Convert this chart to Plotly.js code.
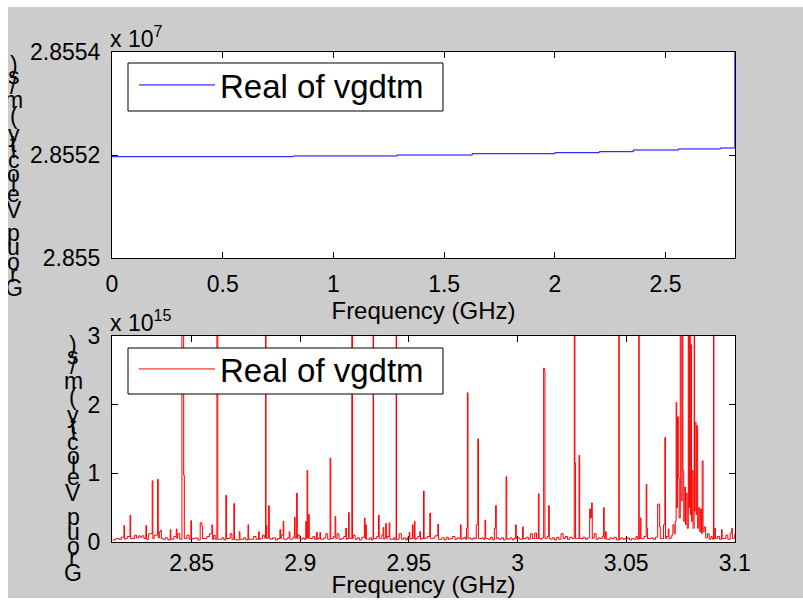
<!DOCTYPE html>
<html><head><meta charset="utf-8">
<script src="https://cdn.plot.ly/plotly-3.0.1.min.js"></script>
<style>
html,body{margin:0;padding:0;background:#fff;overflow:hidden}
#chart{position:absolute;left:8px;top:7px;width:795px;height:591px}
</style></head><body><div id="chart"></div>
<script>
// ---------- data ----------
const seriesName = 'Real of vgdtm';
const xTitle = 'Frequency (GHz)';
const yTitle = 'Group Velocity (m/s)';

// top panel: group velocity in units of 1e7 m/s
const topFreqGHz = [0, 0.818, 1.288, 1.627, 2.0, 2.2, 2.354, 2.558, 2.747, 2.8130];
const topVelE7 = [2.8551967, 2.8551981, 2.8552000, 2.8552025, 2.8552045, 2.8552064, 2.8552097, 2.8552117, 2.8552136, 2.8600];
const topXTicks = [0, 0.5, 1, 1.5, 2, 2.5];
const topYTicks = [2.855, 2.8552, 2.8554];
const topYTickText = ['2.855', '2.8552', '2.8554'];

// bottom panel: group velocity in units of 1e15 m/s
const bottomFreqGHz = [
2.8135,2.8150,2.8165,2.8176,2.8188,2.8191,2.8196,2.8203,2.8216,2.8219,2.8226,2.8237,
2.8246,2.8256,2.8263,2.8271,2.8280,2.8289,2.8292,2.8302,2.8318,2.8321,2.8327,2.8343,2.8346,
2.8351,2.8357,2.8360,2.8368,2.8378,2.8390,2.8401,2.8404,2.8410,2.8418,2.8429,2.8432,2.8435,
2.8445,2.8455,2.8457,2.8463,2.8466,2.8470,2.8478,2.8488,2.8496,2.8499,2.8505,2.8516,
2.8528,2.8539,2.8547,2.8550,2.8558,2.8570,2.8582,2.8593,2.8596,2.8601,2.8608,2.8616,2.8618,
2.8620,2.8628,2.8639,2.8648,2.8657,2.8660,2.8667,2.8677,2.8685,2.8694,2.8697,2.8705,
2.8719,2.8722,2.8729,2.8739,2.8749,2.8759,2.8762,2.8770,2.8785,2.8796,2.8808,2.8811,2.8817,
2.8826,2.8834,2.8840,2.8842,2.8843,2.8846,2.8850,2.8854,2.8857,2.8863,2.8872,2.8885,2.8895,
2.8906,2.8909,2.8912,2.8921,2.8924,2.8930,2.8940,2.8949,2.8952,2.8958,2.8966,2.8973,2.8976,2.8978,
2.8983,2.8986,2.8989,2.8998,2.9010,2.9018,2.9025,2.9028,2.9031,2.9034,2.9038,2.9041,2.9046,2.9058,
2.9066,2.9075,2.9078,2.9082,2.9090,2.9093,2.9100,2.9108,2.9117,2.9126,2.9137,2.9140,2.9146,
2.9153,2.9160,2.9163,2.9169,2.9178,2.9190,2.9200,2.9209,2.9212,2.9215,2.9222,2.9225,2.9237,2.9238,2.9240,
2.9243,2.9252,2.9262,2.9272,2.9283,2.9295,2.9298,2.9301,2.9304,2.9310,2.9320,
2.9328,2.9335,2.9337,2.9343,2.9352,2.9360,2.9363,2.9368,2.9375,2.9381,2.9384,2.9387,2.9393,2.9396,
2.9400,2.9409,2.9412,2.9418,2.9428,2.9435,2.9441,2.9443,2.9448,2.9455,2.9465,2.9475,
2.9485,2.9493,2.9501,2.9504,2.9508,2.9516,2.9519,2.9525,2.9528,2.9533,2.9541,2.9550,2.9553,2.9558,
2.9567,2.9570,2.9575,2.9585,2.9596,2.9599,2.9605,2.9613,2.9620,2.9633,2.9636,2.9642,2.9652,
2.9662,2.9672,2.9681,2.9690,2.9700,2.9712,2.9722,2.9730,2.9737,2.9740,2.9745,
2.9753,2.9760,2.9765,2.9769,2.9772,2.9775,2.9785,2.9796,2.9804,2.9810,2.9817,2.9820,
2.9825,2.9835,2.9843,2.9850,2.9853,2.9858,2.9866,2.9875,2.9884,2.9893,2.9899,2.9902,
2.9906,2.9915,2.9925,2.9935,2.9947,2.9950,2.9955,2.9965,2.9975,2.9983,2.9991,2.9994,
2.9999,3.0010,3.0023,3.0026,3.0030,3.0040,3.0050,3.0059,3.0068,3.0079,3.0087,
3.0096,3.0099,3.0105,3.0112,3.0120,3.0123,3.0126,3.0130,3.0136,3.0143,3.0146,3.0150,3.0160,
3.0170,3.0180,3.0190,3.0200,3.0210,3.0220,3.0230,3.0240,3.0250,3.0261,3.0264,3.0267,
3.0272,3.0283,3.0286,3.0292,3.0302,3.0312,3.0322,3.0332,3.0336,3.0341,3.0344,
3.0347,3.0353,3.0362,3.0372,3.0382,3.0390,3.0396,3.0399,3.0405,3.0408,3.0415,3.0425,
3.0435,3.0445,3.0455,3.0466,3.0468,3.0475,3.0485,3.0495,3.0505,3.0515,3.0525,
3.0535,3.0545,3.0551,3.0558,3.0560,3.0565,3.0568,3.0572,3.0582,3.0592,3.0595,3.0598,3.0605,
3.0615,3.0625,3.0635,3.0645,3.0654,3.0657,3.0662,3.0672,3.0678,3.0681,3.0686,3.0694,3.0697,
3.0702,3.0710,3.0715,3.0721,3.0726,3.0730,3.0733,3.0736,3.0740,3.0744,
3.0749,3.0753,3.0758,3.0761,3.0765,3.0770,3.0773,3.0776,3.0781,3.0786,
3.0789,3.0792,3.0795,3.0798,3.0801,3.0804,3.0808,3.0813,3.0815,3.0817,
3.0822,3.0825,3.0829,3.0834,3.0839,3.0843,3.0847,3.0850,3.0854,3.0859,
3.0866,3.0874,3.0882,3.0890,3.0896,3.0902,3.0904,3.0908,3.0911,3.0915,3.0921,3.0930,
3.0939,3.0942,3.0948,3.0959,3.0968,3.0979,3.0986,3.0989,3.0993,3.1000];
const bottomVelE15 = [
0.03,0.05,0.04,0.07,0.24,0.04,0.05,0.08,0.39,0.05,0.05,0.10,
0.06,0.09,0.07,0.09,0.05,0.24,0.04,0.12,0.89,0.05,0.10,0.91,0.06,
0.15,0.17,0.05,0.04,0.06,0.03,0.18,0.04,0.04,0.08,0.19,0.05,0.12,
0.04,12,12,0.97,0.05,0.05,0.10,0.04,0.31,0.04,0.05,0.06,
0.03,0.28,0.22,0.05,0.05,0.08,0.12,0.25,0.04,0.10,0.04,12,12,
0.04,0.04,0.06,0.03,0.68,0.05,0.05,0.12,0.04,0.56,0.04,0.03,
0.15,0.04,0.04,0.06,0.03,0.25,0.04,0.04,0.08,0.04,0.15,0.04,0.05,
0.10,0.06,12,0.05,0.24,0.05,0.06,0.53,0.05,0.04,0.06,0.03,0.05,
0.18,0.05,0.10,0.30,0.04,0.04,0.06,0.15,0.04,0.04,0.07,0.36,0.05,0.06,
0.71,0.05,0.10,0.04,0.06,0.04,0.30,0.05,1.04,0.06,0.40,0.05,0.05,0.08,
0.04,0.14,0.04,0.05,0.14,0.04,0.04,0.06,0.12,0.04,1.22,0.05,0.05,
0.08,0.37,0.05,0.12,0.04,0.05,0.08,0.20,0.04,0.05,0.43,0.05,12,12,0.05,
0.10,0.04,0.06,0.03,0.07,0.35,0.05,0.25,0.04,0.04,0.06,
0.03,12,0.05,0.05,0.08,0.39,0.05,0.05,0.10,0.21,0.04,0.06,0.27,0.05,
0.08,0.28,0.04,0.04,0.06,0.03,12,0.04,0.04,0.12,0.04,0.06,
0.03,0.07,0.14,0.04,0.05,0.25,0.05,0.30,0.04,0.05,0.08,0.15,0.04,0.05,
0.74,0.05,0.06,0.08,0.42,0.05,0.05,0.06,0.09,0.26,0.04,0.04,0.06,
0.03,0.07,0.04,0.05,0.08,0.04,0.06,0.05,0.25,0.04,0.05,
0.07,0.04,0.20,2.17,0.05,0.06,0.04,0.06,0.05,0.25,1.50,0.05,
0.05,0.06,0.04,0.32,0.05,0.05,0.04,0.07,0.03,0.20,0.53,0.05,
0.06,0.04,0.06,0.03,0.95,0.05,0.04,0.06,0.03,0.05,0.25,0.05,
0.06,0.04,0.22,0.05,0.05,0.07,0.04,0.12,0.05,0.13,0.05,
0.70,0.05,0.04,0.06,2.53,2.50,0.05,0.05,0.08,0.53,0.05,0.04,0.06,
0.03,0.07,0.04,0.12,0.05,0.08,0.04,0.07,0.05,12,1.15,0.05,
0.05,1.26,0.05,0.05,0.07,0.04,0.06,0.48,0.35,0.57,0.05,
0.06,0.12,0.04,0.06,0.05,0.08,0.50,0.05,0.15,0.04,0.04,0.06,
0.05,0.07,0.03,12,0.04,0.06,0.04,0.05,0.06,0.03,0.05,
0.04,0.08,0.04,12,0.05,0.35,0.05,0.05,0.08,0.84,0.20,0.05,0.05,
0.06,0.04,0.07,0.55,0.22,0.05,0.05,0.25,1.52,0.05,0.08,0.19,0.05,
0.06,0.10,0.25,0.12,0.30,2.03,0.50,1.82,0.93,0.35,
12,0.60,12,1.04,0.30,0.80,0.25,0.71,0.20,12,
0.50,12,0.40,2.87,0.30,1.04,0.20,12,0.45,1.74,
0.40,1.69,0.20,0.50,0.15,0.48,0.12,1.18,0.15,0.22,
0.06,0.12,0.04,0.08,0.04,12,0.05,0.20,0.05,0.05,0.08,0.04,
0.18,0.05,0.05,0.10,0.04,0.13,0.20,0.05,0.05,0.12];
const bottomXTicks = [2.85, 2.9, 2.95, 3, 3.05, 3.1];
const bottomYTicks = [0, 1, 2, 3];

// ---------- layout helpers (pixel geometry) ----------
const W = 795, H = 591, OX = 8, OY = 7;
const L = 104, R = 68, T = 45, B = 56;
const PW = W - L - R, PH = H - T - B;
const pxX = xw => (xw - OX - L) / PW;
const pxY = yw => (H - B - (yw - OY)) / PH;

const FONT = 'Liberation Sans, Arial, Helvetica, sans-serif';

const axisCommon = {
  showline: true, linecolor: '#000', linewidth: 1, mirror: 'ticks',
  ticks: 'inside', ticklen: 6, tickcolor: '#000', tickwidth: 1,
  showgrid: false, zeroline: false, layer: 'below traces', fixedrange: true,
  tickfont: {family: FONT, size: 23, color: '#000'}
};

// stacked (unrotated) y-label characters, bottom to top
const adv = {G:.778,r:.333,o:.556,u:.556,p:.556,' ':.278,V:.667,e:.556,l:.222,c:.5,i:.222,t:.278,y:.5,'(':.333,m:.833,'/':.278,s:.5,')':.333};
function stackedLabel(text, xc, yBottom, yTop) {
  const chars = text.split('');
  const centers = []; let acc = 0;
  chars.forEach(ch => { const a = adv[ch] || .556; centers.push(acc + a / 2); acc += a; });
  const span = centers[centers.length - 1] - centers[0];
  const out = [];
  chars.forEach((ch, i) => {
    if (ch === ' ') return;
    const yw = yBottom - (centers[i] - centers[0]) / span * (yBottom - yTop);
    out.push({xref: 'paper', yref: 'paper', x: pxX(xc), y: pxY(yw), xanchor: 'center', yanchor: 'middle',
      text: ch, showarrow: false, font: {family: FONT, size: 23, color: '#000'}});
  });
  return out;
}

const annotations = [
  {xref: 'paper', yref: 'paper', x: pxX(109), y: pxY(53), xanchor: 'left', yanchor: 'bottom',
   text: 'x 10<sup>7</sup>', showarrow: false, borderpad: 0, font: {family: FONT, size: 23, color: '#000'}},
  {xref: 'paper', yref: 'paper', x: pxX(109), y: pxY(337), xanchor: 'left', yanchor: 'bottom',
   text: 'x 10<sup>15</sup>', showarrow: false, borderpad: 0, font: {family: FONT, size: 23, color: '#000'}},
  ...stackedLabel(yTitle, 13.5, 288, 65),
  ...stackedLabel(yTitle, 73, 573, 345)
];

// legend frames (white boxes that hide the data behind the legends)
const legendBox = (x0, y0, x1, y1) => ({type: 'rect', xref: 'paper', yref: 'paper', layer: 'above',
  x0: pxX(x0), x1: pxX(x1), y0: pxY(y0), y1: pxY(y1), fillcolor: '#fff', line: {color: '#000', width: 1}});

const traces = [
  {x: topFreqGHz, y: topVelE7, xaxis: 'x', yaxis: 'y', type: 'scatter', mode: 'lines',
   line: {color: '#0000ff', width: 1, shape: 'hv'}, name: seriesName, legend: 'legend'},
  {x: bottomFreqGHz, y: bottomVelE15, xaxis: 'x2', yaxis: 'y2', type: 'scatter', mode: 'lines',
   line: {color: '#ff0000', width: 1, shape: 'hv'}, name: seriesName, legend: 'legend2'}
];

const legendCommon = {
  xanchor: 'left', yanchor: 'top', bgcolor: 'rgba(0,0,0,0)', borderwidth: 0,
  font: {family: FONT, size: 33, color: '#000'}, itemwidth: 76, itemclick: false, itemdoubleclick: false
};

const layout = {
  width: W, height: H,
  margin: {l: L, r: R, t: T, b: B, pad: 0},
  paper_bgcolor: '#cccccc', plot_bgcolor: '#ffffff',
  showlegend: true,
  font: {family: FONT, color: '#000'},
  xaxis: Object.assign({}, axisCommon, {anchor: 'y', domain: [0, 1], range: [0, 2.8135],
    tickvals: topXTicks, ticklabelstandoff: 5,
    title: {text: xTitle, font: {family: FONT, size: 24, color: '#000'}, standoff: 0}}),
  yaxis: Object.assign({}, axisCommon, {anchor: 'x', domain: [pxY(258), 1], range: [2.85499999, 2.85540001],
    tickvals: topYTicks, ticktext: topYTickText, ticklabelstandoff: 6}),
  xaxis2: Object.assign({}, axisCommon, {anchor: 'y2', domain: [0, 1], range: [2.8133, 3.1001],
    tickvals: bottomXTicks, ticklabelstandoff: 0,
    title: {text: xTitle, font: {family: FONT, size: 24, color: '#000'}, standoff: 7}}),
  yaxis2: Object.assign({}, axisCommon, {anchor: 'x2', domain: [0, pxY(335.7)], range: [-0.00001, 3.00001],
    tickvals: bottomYTicks, ticklabelstandoff: 6}),
  legend: Object.assign({}, legendCommon, {x: pxX(134), y: pxY(57)}),
  legend2: Object.assign({}, legendCommon, {x: pxX(134), y: pxY(341)}),
  shapes: [legendBox(128, 63, 443, 111), legendBox(128, 348, 443, 394)],
  annotations: annotations
};

Plotly.newPlot('chart', traces, layout, {staticPlot: true, displayModeBar: false});
</script></body></html>
